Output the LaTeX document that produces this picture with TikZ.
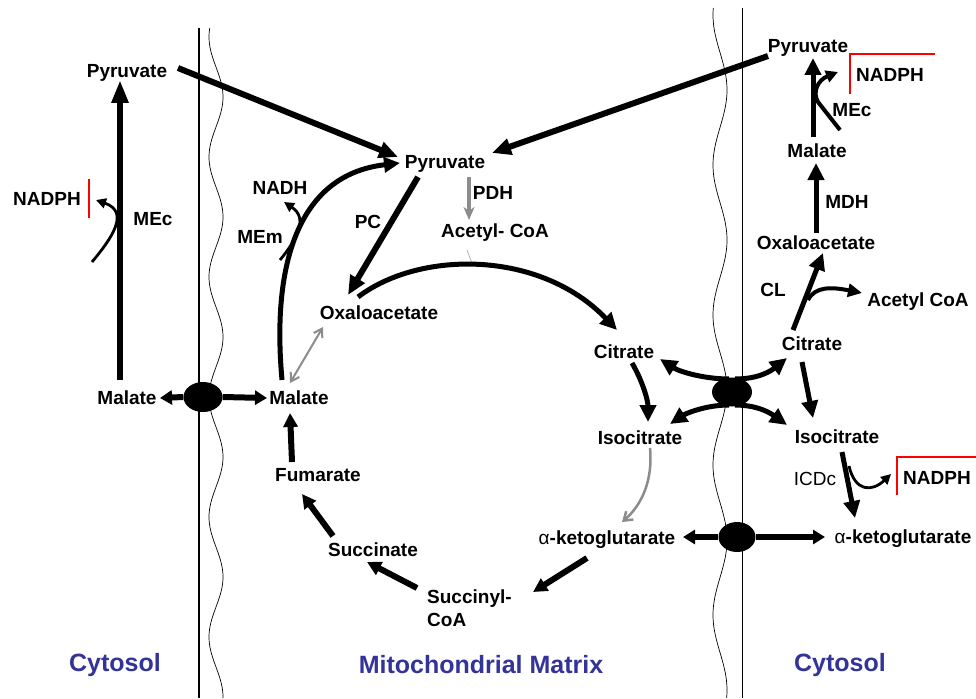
\documentclass[tikz,border=0pt]{standalone}
\usepackage{fontspec}
\setmainfont{Liberation Sans}
\usetikzlibrary{arrows.meta,shapes.geometric}
\definecolor{cytoblue}{HTML}{333399}
\definecolor{arrowgray}{HTML}{8C8C8C}
\definecolor{markred}{HTML}{FF0000}
\begin{document}
\begin{tikzpicture}[x=1pt,y=-1pt,
  lbl/.style={font=\bfseries\fontsize{19}{23}\selectfont, inner sep=0pt, text height=13.5pt, text depth=0pt},
  reg/.style={font=\fontsize{19}{23}\selectfont, inner sep=0pt, text height=13.5pt, text depth=0pt},
  region/.style={font=\bfseries\fontsize{25}{30}\selectfont, text=cytoblue, inner sep=0pt},
  big/.style={line width=6pt, -{Triangle[length=19pt,width=16pt]}},
  mid/.style={line width=5pt, -{Triangle[length=17pt,width=16pt]}},
  cyc/.style={line width=6pt, -{Triangle[length=14pt,width=14pt]}},
  trans/.style={line width=6pt, -{Triangle[length=12pt,width=14pt]}},
  small/.style={line width=2.8pt, -{Triangle[length=10pt,width=10pt]}},
  grayarr/.style={draw=arrowgray, line width=2.5pt, -{Straight Barb[length=8pt,width=11pt]}},
  pdharr/.style={draw=arrowgray, line width=4pt, -{Stealth[length=13pt,width=11pt,inset=4pt]}},
  redmark/.style={draw=markred, line width=1.3pt},
  membrane/.style={line width=1.3pt},
  wave/.style={line width=0.7pt},
  carrier/.style={ellipse, fill=black, inner sep=0pt}
]
\fill[white] (0,0) rectangle (976,698);
\useasboundingbox (0,0) rectangle (976,698);

% ---- membranes: straight outer line and wavy inner membrane ----
\draw[membrane] (199,28) -- (199,698);
\draw[membrane, line width=1pt] (742,8) -- (742,698);
\draw[wave] plot[domain=28:698, samples=260, smooth, variable=\t] ({216-7*cos(3*(\t-397))}, \t);
\draw[wave] plot[domain=8:698, samples=260, smooth, variable=\t] ({720+7*cos(2.4*(\t-390))}, \t);

% ---- metabolite labels ----
\node[lbl] (pyrL) at (127,71) {Pyruvate};
\node[lbl] (nadphL) at (47,199) {NADPH};
\node[lbl] (mecL) at (153,219) {MEc};
\node[lbl] (malL) at (127,398) {Malate};
\node[lbl] (malM) at (299,398) {Malate};
\node[lbl] (pyrM) at (445,162) {Pyruvate};
\node[lbl] (pdh) at (493,193) {PDH};
\node[lbl] (acoaM) at (495,231) {Acetyl- CoA};
\node[lbl] (pc) at (368,222) {PC};
\node[lbl] (nadh) at (280,188) {NADH};
\node[lbl] (mem) at (260,237) {MEm};
\node[lbl] (oaaM) at (379,313) {Oxaloacetate};
\node[lbl] (citM) at (624,352) {Citrate};
\node[lbl] (isoM) at (640,438) {Isocitrate};
\node[lbl] (akgM) at (607,538) {{\mdseries α}-ketoglutarate};
\node[lbl, anchor=west] (sucA) at (427,597) {Succinyl-};
\node[lbl, anchor=west] (sucB) at (427,620) {CoA};
\node[lbl] (succ) at (373,550) {Succinate};
\node[lbl] (fum) at (318,475) {Fumarate};
\node[lbl] (pyrR) at (808,46) {Pyruvate};
\node[lbl] (nadphR) at (890,75) {NADPH};
\node[lbl] (mecR) at (852,110) {MEc};
\node[lbl] (malR) at (817,151) {Malate};
\node[lbl] (mdh) at (847,202) {MDH};
\node[lbl] (oaaR) at (816,243) {Oxaloacetate};
\node[lbl] (cl) at (773,290) {CL};
\node[lbl] (acoaR) at (918,300) {Acetyl CoA};
\node[lbl] (citR) at (812,344) {Citrate};
\node[lbl] (isoR) at (837,437) {Isocitrate};
\node[reg] (icdc) at (815,479) {ICDc};
\node[lbl] (nadphR2) at (937,478) {NADPH};
\node[lbl] (akgR) at (903,537) {{\mdseries α}-ketoglutarate};

\node[region] (cytL) at (115,665) {Cytosol};
\node[region] (matrix) at (481,665) {Mitochondrial Matrix};
\node[region] (cytR) at (840,665) {Cytosol};

% ---- carriers ----
\node[carrier, minimum width=39pt, minimum height=30pt] (carM) at (203,397) {};
\node[carrier, minimum width=40pt, minimum height=29pt] (carC) at (732,392) {};
\node[carrier, minimum width=37pt, minimum height=30pt] (carK) at (737,537) {};

% ---- connector end points ----
\coordinate (pyrL-o) at (178,68);   \coordinate (pyrM-l) at (398,157);
\coordinate (pyrR-o) at (768,56);   \coordinate (pyrM-r) at (492,153);
\coordinate (malL-n) at (120,380);  \coordinate (pyrL-s) at (120,80);
\coordinate (malL-e) at (160,398);  \coordinate (malM-w) at (267,398);
\coordinate (malM-n) at (282,380);  \coordinate (pyrM-w) at (400,163);
\coordinate (pyrM-sw) at (418,177); \coordinate (oaaM-ne) at (348,295);
\coordinate (pyrM-s) at (469,177);  \coordinate (acoaM-n) at (469,220);
\coordinate (acoaM-s) at (467,250); \coordinate (arc-top) at (473,266);
\coordinate (oaaM-e) at (358,297);  \coordinate (citM-nw) at (617,330);
\coordinate (malM-ne) at (290,383); \coordinate (oaaM-sw) at (323,327);
\coordinate (fum-n) at (292,462);   \coordinate (malM-s) at (290,413);
\coordinate (succ-n) at (333,536);  \coordinate (fum-s) at (302,494);
\coordinate (suc-w) at (417,588);   \coordinate (succ-e) at (367,562);
\coordinate (akgM-sw) at (587,558); \coordinate (suc-ne) at (533,592);
\coordinate (isoM-s) at (650,448);  \coordinate (akgM-n) at (622,522);
\coordinate (citM-s) at (632,363);  \coordinate (isoM-n) at (648,422);
\coordinate (citM-e) at (660,359);  \coordinate (citR-w) at (787,358);
\coordinate (isoM-e) at (670,424);  \coordinate (isoR-w) at (787,425);
\coordinate (citR-s) at (802,362);  \coordinate (isoR-n) at (813,418);
\coordinate (citR-n) at (793,330);  \coordinate (oaaR-s) at (823,253);
\coordinate (cl-fork) at (808,300); \coordinate (acoaR-w) at (862,293);
\coordinate (oaaR-n) at (816,233);  \coordinate (malR-s) at (816,163);
\coordinate (malR-n) at (813,137);  \coordinate (pyrR-s) at (813,58);
\coordinate (isoR-s) at (842,452);  \coordinate (akgR-n) at (855,518);
\coordinate (akgM-e) at (683,537);  \coordinate (akgR-w) at (825,537);

% ---- pyruvate import ----
\draw[big] (pyrL-o) -- (pyrM-l);
\draw[big] (pyrR-o) -- (pyrM-r);

% ---- left cytosol: malic enzyme ----
\draw[line width=6pt, -{Triangle[length=23pt,width=16pt]}] (malL-n) -- (pyrL-s);
\draw[small] (92,262) .. controls (112,238) and (130,212) .. (96,200);
\draw[redmark] (89,179) -- (89,218);

% ---- malate carrier ----
\draw[trans] (carM.west) -- (malL-e);
\draw[trans] (carM.east) -- (malM-w);

% ---- matrix ----
\draw[line width=5pt, -{Triangle[length=16pt,width=15pt]}] (malM-n) .. controls (272,270) and (295,175) .. (pyrM-w);
\draw[small] (280,260) .. controls (298,238) and (308,218) .. (284,202);
\draw[big] (pyrM-sw) -- (oaaM-ne);
\draw[pdharr] (pyrM-s) -- (acoaM-n);
\draw[draw=gray!60, line width=0.8pt] (acoaM-s) -- (arc-top);
\draw[mid] (oaaM-e) .. controls (420,250) and (540,250) .. (citM-nw);
\draw[draw=arrowgray, line width=2pt, {Straight Barb[length=8pt,width=10pt]}-{Straight Barb[length=8pt,width=10pt]}] (malM-ne) -- (oaaM-sw);
\draw[cyc] (fum-n) -- (malM-s);
\draw[cyc] (succ-n) -- (fum-s);
\draw[cyc] (suc-w) -- (succ-e);
\draw[cyc] (akgM-sw) -- (suc-ne);
\draw[grayarr] (isoM-s) .. controls (653,480) and (642,505) .. (akgM-n);
\draw[mid] (citM-s) .. controls (642,380) and (648,400) .. (isoM-n);

% ---- citrate / isocitrate carrier ----
\draw[mid] (729,379) .. controls (705,379) and (680,372) .. (citM-e);
\draw[mid] (735,379) .. controls (760,379) and (772,370) .. (citR-w);
\draw[mid] (729,405) .. controls (705,405) and (685,414) .. (isoM-e);
\draw[mid] (735,405) .. controls (760,405) and (773,415) .. (isoR-w);

% ---- right cytosol ----
\draw[mid] (citR-s) -- (isoR-n);
\draw[mid] (citR-n) -- (oaaR-s);
\draw[line width=4pt, -{Triangle[length=14pt,width=13pt]}] (cl-fork) .. controls (815,286) and (832,287) .. (acoaR-w);
\draw[mid] (oaaR-n) -- (malR-s);
\draw[mid] (malR-n) -- (pyrR-s);
\draw[line width=4pt, -{Triangle[length=12pt,width=12pt]}] (840,130) -- (818,102) .. controls (812,92) and (818,80) .. (838,72);
\draw[redmark] (850,94) -- (850,54) -- (935,54);
\draw[mid] (isoR-s) -- (akgR-n);
\draw[small] (849,466) .. controls (855,492) and (872,492) .. (891,474);
\draw[redmark] (897,495) -- (897,457) -- (976,457);

% ---- alpha-ketoglutarate carrier ----
\draw[trans] (carK.west) -- (akgM-e);
\draw[trans] (carK.east) -- (akgR-w);
\end{tikzpicture}
\end{document}
